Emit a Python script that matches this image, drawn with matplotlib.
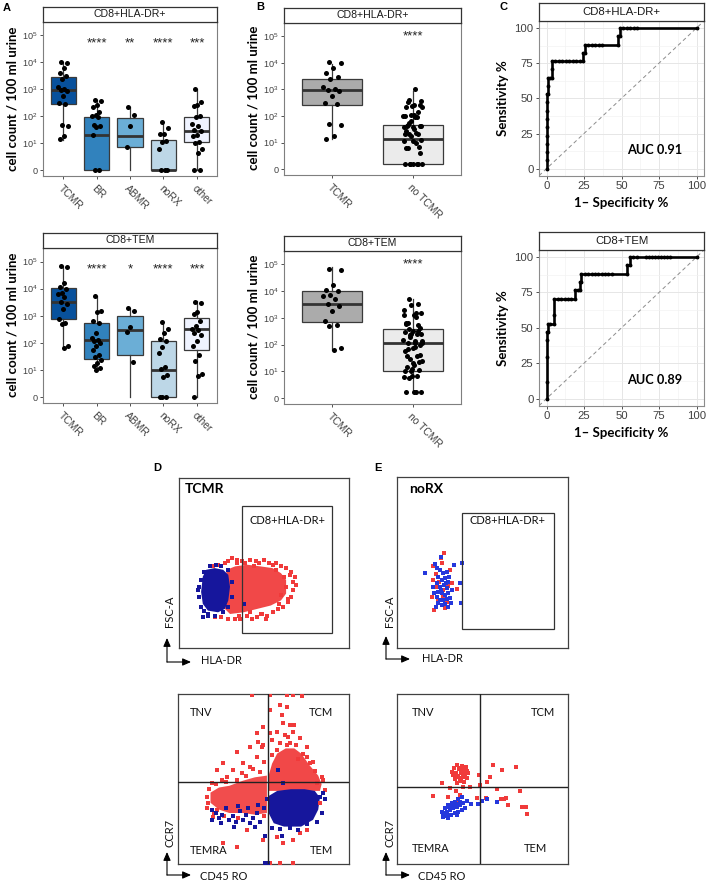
import matplotlib.pyplot as plt
import numpy as np

plt.rcParams['font.family'] = ['Liberation Sans', 'DejaVu Sans']
plt.rcParams['mathtext.fontset'] = 'custom'
plt.rcParams['mathtext.rm'] = 'Liberation Sans'
plt.rcParams['mathtext.it'] = 'Liberation Sans:italic'
plt.rcParams['mathtext.bf'] = 'Liberation Sans:bold'

W, H = 708, 885
BOLD = ['Lato', 'DejaVu Sans']

# ---------------- data (log10 cell count / 100 ml urine, 0 = none) ----------------
groups_a = ['TCMR', 'BR', 'ABMR', 'noRX', 'other']
groups_b = ['TCMR', 'no TCMR']

hla_tcmr = [4.03, 3.98, 3.79, 3.6, 3.48, 3.4, 3.1, 3.03, 2.98, 2.95, 2.75, 2.5, 2.45, 1.69, 1.65, 1.25, 1.15]
hla_br = [2.62, 2.55, 2.4, 2.35, 2.15, 2.05, 2.0, 1.98, 1.68, 1.62, 1.6, 1.32, 0, 0]
hla_abmr = [2.35, 2.05, 1.62, 0.85]
hla_norx = [1.8, 1.58, 1.35, 1.33, 1.08, 1.05, 0.8, 0, 0, 0]
hla_other = [3.0, 2.52, 2.42, 2.38, 2.0, 1.98, 1.72, 1.62, 1.5, 1.45, 1.32, 1.25, 1.06, 1.0, 0.79, 0.62, 0, 0]

tem_tcmr = [4.82, 4.8, 4.22, 4.06, 4.0, 3.85, 3.81, 3.69, 3.52, 3.44, 3.25, 2.88, 2.75, 2.69, 1.88, 1.81]
tem_br = [3.72, 3.19, 3.12, 2.81, 2.75, 2.38, 2.19, 2.12, 2.06, 2.0, 1.88, 1.75, 1.56, 1.47, 1.38, 1.25, 1.15, 1.06, 1.0]
tem_abmr = [3.28, 3.19, 2.6, 2.4, 1.31]
tem_norx = [2.78, 2.5, 2.35, 2.15, 2.06, 1.85, 1.62, 1.1, 1.02, 0.81, 0.75, 0, 0, 0]
tem_other = [3.52, 3.47, 3.12, 3.05, 2.81, 2.62, 2.52, 2.48, 2.38, 2.3, 2.06, 1.9, 1.56, 1.34, 0.84, 0.78, 0]

# box statistics (TCMR, BR, ABMR, noRX, other)
hla_q1 = [2.45, 0.0, 0.86, 0.0, 1.04]
hla_med = [2.97, 1.31, 1.25, 0.0, 1.47]
hla_q3 = [3.45, 1.98, 1.95, 1.1, 1.98]
hla_lo = [1.12, 0.0, 0.0, 0.0, 0.0]
hla_hi = [4.0, 2.6, 2.35, 1.8, 3.0]

tem_q1 = [2.88, 1.41, 1.56, 0.0, 1.72]
tem_med = [3.52, 2.09, 2.48, 1.0, 2.52]
tem_q3 = [4.02, 2.75, 3.0, 2.05, 2.91]
tem_lo = [1.81, 1.0, 0.0, 0.0, 0.0]
tem_hi = [4.82, 3.72, 3.28, 2.78, 3.56]

# panel B (TCMR, no TCMR); zero counts are drawn at 0.21 in B
b_zero = 0.21
b_hla_q1 = [2.41, 0.21]
b_hla_med = [2.96, 1.14]
b_hla_q3 = [3.41, 1.66]
b_hla_lo = [1.15, 0.21]
b_hla_hi = [3.96, 2.94]

b_tem_q1 = [2.85, 1.03]
b_tem_med = [3.5, 2.05]
b_tem_q3 = [4.0, 2.59]
b_tem_lo = [1.8, 0.21]
b_tem_hi = [4.9, 3.71]

stars_hla = ['', '****', '**', '****', '***']
stars_tem = ['', '****', '*', '****', '***']
stars_b = ['', '****']

# ROC curves (1 - specificity %, sensitivity %)
roc_hla_fpr = [0, 0, 0, 0, 0, 0, 0, 0, 0, 0, 1.2, 1.2, 1.2, 2.3, 3.5, 3.5, 3.5, 5.8, 8.1, 10.5,
               12.8, 15.1, 17.4, 19.8, 22.1, 24.4, 24.4, 25.6, 25.6, 27.9, 30.2, 32.6, 34.9, 37.2,
               47.7, 47.7, 48.8, 48.8, 51.2, 53.5, 55.8, 58.1, 60.5, 100]
roc_hla_tpr = [0, 5.9, 11.8, 17.6, 23.5, 29.4, 35.3, 41.2, 47.1, 52.9, 52.9, 58.8, 64.7, 64.7, 64.7,
               70.6, 76.5, 76.5, 76.5, 76.5, 76.5, 76.5, 76.5, 76.5, 76.5, 76.5, 82.4, 82.4, 88.2,
               88.2, 88.2, 88.2, 88.2, 88.2, 88.2, 94.1, 94.1, 100, 100, 100, 100, 100, 100, 100]
roc_tem_fpr = [0, 0, 0, 0, 0, 0.9, 0.9, 2.5, 5.3, 5.3, 5.3, 7.5, 9.8, 12.0, 14.2, 16.5, 18.8, 18.8,
               21.0, 22.4, 22.4, 23.2, 23.2, 25.5, 27.8, 30.0, 32.3, 34.5, 36.8, 39.0, 41.3, 43.5,
               53.5, 53.5, 55.5, 55.5, 57.7, 60.0, 66.0, 68.0, 70.0, 72.0, 74.0, 76.0, 78.0, 80.0,
               82.3, 100]
roc_tem_tpr = [0, 11.8, 29.4, 41.2, 47.1, 47.1, 52.9, 52.9, 52.9, 58.8, 70.6, 70.6, 70.6, 70.6, 70.6,
               70.6, 70.6, 76.5, 76.5, 76.5, 82.4, 82.4, 88.2, 88.2, 88.2, 88.2, 88.2, 88.2, 88.2,
               88.2, 88.2, 88.2, 88.2, 94.1, 94.1, 100, 100, 100, 100, 100, 100, 100, 100, 100, 100,
               100, 100, 100]
auc_hla = 0.91
auc_tem = 0.89

# flow cytometry events (arbitrary channel units 0-100); dense cores as outlines
d1_red_core = [(28, 46), (33, 48), (40, 49), (48, 48), (55, 47), (60, 44), (63, 40), (63, 32), (60, 28),
               (54, 25), (46, 23), (38, 21), (30, 20), (27, 23), (27, 35)]
d1_blue_core = [(14, 42), (16, 46), (21, 47), (26, 46), (29, 43), (30, 36), (29, 28), (27, 23), (23, 21),
                (17, 22), (14, 26), (13, 33)]
d1_red_pts = [(29, 51), (34, 52), (37, 51), (42, 52), (45, 51), (50, 52), (53, 50), (57, 50), (60, 48),
              (63, 47), (66, 45), (68, 42), (67, 39), (69, 37), (67, 34), (66, 30), (64, 27), (61, 24),
              (58, 23), (55, 21), (52, 19), (49, 20), (46, 18), (43, 17), (40, 19), (36, 17), (33, 17),
              (29, 17), (25, 18), (21, 18), (34, 50), (44, 48), (57, 46), (62, 42), (63, 36), (60, 31),
              (48, 20), (23, 49), (27, 50), (20, 48), (51, 17), (31, 53), (65, 43), (64, 29), (59, 26),
              (39, 50), (47, 50), (55, 49), (42, 21), (35, 19)]
d1_blue_pts = [(12, 30), (12, 36), (13, 40), (13, 24), (15, 45), (18, 48), (22, 49), (25, 48), (29, 46),
               (31, 39), (31, 30), (29, 24), (26, 21), (21, 19), (17, 19), (15, 22), (14, 18), (38, 26),
               (17, 20), (11, 34)]

d2_red_core_left = [(19, 42), (24, 45), (30, 46), (38, 49), (45, 51), (52, 52), (52, 30), (45, 29),
                    (38, 30), (30, 30), (24, 32), (19, 36)]
d2_red_core_right = [(53, 52), (55, 59), (58, 65), (63, 68), (68, 68), (72, 65), (77, 58), (82, 52),
                     (84, 47), (83, 43), (53, 43)]
d2_blue_core = [(53, 40), (58, 43), (66, 44), (74, 44), (80, 43), (83, 39), (82, 32), (79, 26), (72, 22),
                (62, 22), (56, 24), (53, 30)]
d2_red_pts = [(43.1, 99.4), (53.8, 99.6), (63.5, 99.6), (67.4, 99.4), (72.3, 99), (59.6, 93.5),
              (63.5, 92.5), (60.6, 87.6), (53.8, 90.6), (65.5, 81.8), (61.6, 82.7), (67.8, 81.8),
              (57.7, 77.8), (62.6, 75.9), (64.5, 74.9), (67.4, 77.8), (49.9, 80.8), (53.8, 76.9),
              (48.9, 69), (54.8, 73), (59.6, 71), (65.5, 71), (71.3, 74), (75.2, 69), (73.3, 65),
              (46, 76.9), (47, 72), (34.3, 66.1), (42.1, 69), (49.9, 70), (26.5, 59.2), (32.4, 55.3),
              (38.2, 59.2), (22.6, 55.3), (19.7, 47.5), (16.8, 39.6), (42.1, 57.3), (46, 63.1),
              (28.5, 51.4), (25.6, 49.4), (34.3, 49.4), (37.2, 53.3), (85, 49.4), (85.9, 43.6),
              (83.1, 35.7), (81.1, 47.5), (77.2, 59.2), (75.2, 63.1), (26.5, 12.2), (34.3, 10.2),
              (49.9, 14.1), (57.7, 16.1), (67.4, 14.1), (71.3, 18), (75.2, 20), (61.6, 12.2), (40.2, 20),
              (53.8, 0.4), (59.6, 0.4), (67.4, 0.4), (17.7, 35.7), (20.7, 27.8), (22.6, 31.7),
              (44, 56), (50, 60), (55, 64), (70, 62), (80, 55), (18, 44), (22, 47), (28, 48), (40, 52),
              (48, 54), (17, 33), (21, 30), (27, 28), (35, 27), (44, 27), (50, 28), (84, 51), (79, 60),
              (58, 67), (64, 70), (69, 70)]
d2_blue_pts = [(20, 32), (22, 30), (24, 27), (26, 29), (28, 33), (30, 26), (32, 28), (34, 25), (36, 31),
               (38, 26), (40, 29), (42, 24), (44, 27), (46, 30), (48, 25), (50, 33), (47, 35), (35, 34),
               (25, 24), (41, 33), (20, 26), (33, 22), (45, 22), (50.6, 0.4), (52.5, 0.4), (58.7, 55.3),
               (61.6, 47.5), (83.1, 39.6), (75.2, 23.3), (65.5, 21.4), (59.6, 20.4), (60.6, 16.5),
               (50.8, 16.5), (85, 42), (86, 38), (84, 30), (81, 25), (70, 20), (55, 21), (52, 38)]

e1_red_pts = [(27.5, 55.7), (25.5, 52.4), (20.9, 47.9), (22.8, 43.3), (20.5, 29.6), (21.6, 22.2),
              (24.8, 38.8), (27.1, 33.9), (24.2, 28.1), (30.0, 36.2), (32.0, 37.8), (21.2, 39.8),
              (28.1, 23.2), (31.0, 45.6), (23.6, 35.5), (29.0, 27.1), (26.1, 49.5), (34.9, 34.3),
              (26.7, 30.0)]
e1_blue_pts = [(16.4, 44.0), (22.2, 49.1), (25.7, 53.0), (23.2, 46.6), (25.2, 45.6), (27.1, 43.7),
               (29.0, 44.6), (24.2, 41.7), (26.1, 39.8), (28.1, 40.7), (30.0, 38.8), (23.2, 37.8),
               (25.2, 35.9), (27.5, 36.8), (29.0, 35.0), (24.2, 33.0), (26.1, 32.0), (28.1, 31.0),
               (30.0, 32.0), (23.2, 30.0), (25.2, 28.1), (27.1, 28.1), (29.0, 28.5), (31.0, 29.0),
               (24.2, 26.1), (26.1, 25.2), (28.1, 25.7), (30.0, 24.2), (31.4, 26.1), (22.8, 24.2),
               (25.5, 33.9), (28.7, 37.8), (21.2, 35.9), (33.3, 48.3), (38.2, 49.5), (36.8, 37.8),
               (37.2, 26.1), (21.6, 32.0), (32.0, 33.9), (30.6, 41.7)]

e2_red_pts = [(34.9, 58.2), (37.8, 57.6), (40.4, 57.3), (33.3, 56.3), (36.5, 55.7), (38.8, 55.3),
              (41.1, 54.9), (34.5, 53.7), (37.2, 53.3), (39.8, 52.9), (32.6, 52.4), (35.9, 51.4),
              (38.4, 51.0), (40.8, 50.4), (33.9, 49.8), (36.8, 49.0), (39.2, 48.4), (35.3, 47.5),
              (32.0, 54.3), (41.7, 53.3), (26.1, 47.5), (31.0, 44.5), (21.2, 40.0), (30.0, 39.6),
              (34.5, 43.1), (38.8, 45.5), (36.8, 40.6), (34.9, 35.7), (48.1, 52.2), (52.8, 48.4),
              (54.4, 51.4), (56.3, 58.2), (61.2, 55.3), (69.6, 56.9), (58.6, 44.3), (62.6, 38.0),
              (65.1, 34.5), (71.9, 43.1), (72.9, 33.3), (75.4, 33.3), (75.8, 29.4), (46.6, 38.6),
              (52.1, 38.6), (60.6, 38.4), (63.8, 38.6), (48.5, 46.5), (42.7, 45.1), (36, 56.5),
              (39, 54), (35, 52), (37.5, 50.5)]
e2_blue_pts = [(27.1, 29.8), (29.0, 30.8), (31.0, 31.8), (32.9, 32.7), (34.9, 33.7), (36.8, 34.7),
               (38.8, 35.7), (37.8, 39.2), (35.9, 38.0), (33.9, 36.7), (32.0, 35.7), (30.0, 34.7),
               (28.1, 32.7), (26.1, 30.8), (26.7, 27.8), (29.0, 28.2), (31.4, 28.8), (33.9, 29.8),
               (35.9, 30.8), (37.8, 31.8), (39.8, 32.7), (36.8, 36.7), (34.5, 35.3), (32.6, 33.7),
               (30.6, 33.3), (40.8, 37.3), (43.1, 35.3), (47.6, 35.3), (49.5, 37.3), (52.4, 38.0),
               (58.3, 36.3), (35.3, 28.8), (30.0, 26.9)]

# ---------------- drawing ----------------
fig = plt.figure(figsize=(W / 100, H / 100), dpi=100)


def px_axes(x0, y0, x1, y1, **kw):
    return fig.add_axes([x0 / W, 1 - y1 / H, (x1 - x0) / W, (y1 - y0) / H], **kw)


def strip(x0, y0, x1, y1, title, size):
    s = px_axes(x0, y0, x1, y1, facecolor='white')
    s.set_xticks([]); s.set_yticks([])
    for sp in s.spines.values():
        sp.set_color('#333333'); sp.set_linewidth(0.9)
    s.text(0.5, 0.5, title, ha='center', va='center', fontsize=size, color='#1A1A1A', transform=s.transAxes)


def box_panel(rect, title, data, q1, med, q3, lo, hi, fills, labels, stars, star_y, jit):
    x0, y0, x1, y1 = rect
    ax = px_axes(x0, y0, x1, y1)
    n = len(data)
    stats = [dict(med=med[i], q1=q1[i], q3=q3[i], whislo=lo[i], whishi=hi[i], fliers=[]) for i in range(n)]
    bp = ax.bxp(stats, positions=np.arange(1, n + 1), widths=0.75, patch_artist=True,
                showcaps=False, showfliers=False,
                boxprops=dict(edgecolor='#3A3A3A', linewidth=0.9),
                whiskerprops=dict(color='#3A3A3A', linewidth=0.9),
                medianprops=dict(color='#333333', linewidth=2.0, solid_capstyle='butt'))
    for patch, c in zip(bp['boxes'], fills):
        patch.set_facecolor(c)
    for i, vals in enumerate(data):
        k = np.arange(len(vals))
        dx = jit * (2 * ((k * 0.618034 + 0.31) % 1) - 1)
        ax.scatter(i + 1 + dx, vals, s=13, color='black', linewidths=0, zorder=3)
        ax.text(i + 1, star_y - 0.12, stars[i], ha='center', va='center', fontsize=9.5, color='#222222')
    ax.set_xlim(0.4, n + 0.6)
    ax.set_ylim(-0.22, 5.5)
    ax.set_yticks(range(6))
    ax.set_yticklabels(['0'] + ['$10^{%d}$' % k for k in range(1, 6)])
    ax.set_xticks(np.arange(1, n + 1))
    ax.set_xticklabels(labels, rotation=-45, ha='left', va='top', rotation_mode='anchor')
    ax.tick_params(length=2.5, width=0.6, color='#333333', labelcolor='#404040', labelsize=6.6, pad=1.5)
    ax.tick_params(axis='x', labelsize=7.4, pad=2.5)
    for sp in ax.spines.values():
        sp.set_color('#7F7F7F'); sp.set_linewidth(0.8)
    strip(x0, y0 - 15.5, x1, y0, title, 7.6)
    return ax


fills_a = ['#08519C', '#3182BD', '#6BAED6', '#BDD7E7', '#EFF3FF']
fills_b = ['#ABABAB', '#EBEBEB']

box_panel((43, 22, 217, 176), 'CD8+HLA-DR+', [hla_tcmr, hla_br, hla_abmr, hla_norx, hla_other],
          hla_q1, hla_med, hla_q3, hla_lo, hla_hi, fills_a, groups_a, stars_hla, 4.81, 0.15)
box_panel((43, 248, 217, 403), 'CD8+TEM', [tem_tcmr, tem_br, tem_abmr, tem_norx, tem_other],
          tem_q1, tem_med, tem_q3, tem_lo, tem_hi, fills_a, groups_a, stars_tem, 4.82, 0.15)

no_hla = [v if v > 0 else b_zero for v in hla_br + hla_abmr + hla_norx + hla_other]
no_tem = [v if v > 0 else b_zero for v in tem_br + tem_abmr + tem_norx + tem_other]
box_panel((284, 23, 461, 175), 'CD8+HLA-DR+', [hla_tcmr, no_hla],
          b_hla_q1, b_hla_med, b_hla_q3, b_hla_lo, b_hla_hi, fills_b, groups_b, stars_b, 5.1, 0.12)
box_panel((284, 251, 461, 404), 'CD8+TEM', [tem_tcmr, no_tem],
          b_tem_q1, b_tem_med, b_tem_q3, b_tem_lo, b_tem_hi, fills_b, groups_b, stars_b, 5.1, 0.12)


def roc_panel(rect, title, fpr, tpr, auc):
    x0, y0, x1, y1 = rect
    ax = px_axes(x0, y0, x1, y1)
    ax.set_xlim(-5, 105); ax.set_ylim(-5, 105)
    ticks = [0, 25, 50, 75, 100]
    ax.set_xticks(ticks); ax.set_yticks(ticks)
    ax.set_xticks([12.5, 37.5, 62.5, 87.5], minor=True)
    ax.set_yticks([12.5, 37.5, 62.5, 87.5], minor=True)
    ax.grid(which='major', color='#E6E6E6', lw=0.7)
    ax.grid(which='minor', color='#F2F2F2', lw=0.45)
    ax.set_axisbelow(True)
    ax.tick_params(which='minor', length=0)
    ax.tick_params(length=2.5, width=0.6, color='#333333', labelcolor='#404040', labelsize=8.2, pad=1.5)
    ax.plot([-5, 105], [-5, 105], ls=(0, (4, 3)), color='#8C8C8C', lw=0.7)
    ax.plot(fpr, tpr, color='black', lw=1.9, marker='o', ms=1.8, solid_joinstyle='miter')
    ax.text(72, 13, 'AUC %.2f' % auc, ha='center', va='center', fontsize=9.2, weight='bold', family=BOLD)
    ax.set_xlabel('1\u2013 Specificity %', fontsize=9.5, weight='bold', family=BOLD, labelpad=4)
    ax.set_ylabel('Sensitivity %', fontsize=9.5, weight='bold', family=BOLD, labelpad=4)
    for sp in ax.spines.values():
        sp.set_color('#8C8C8C'); sp.set_linewidth(0.8)
    strip(x0, y0 - 17.7, x1, y0, title, 8.2)


roc_panel((539, 21, 704, 175.7), 'CD8+HLA-DR+', roc_hla_fpr, roc_hla_tpr, auc_hla)
roc_panel((539, 250, 704, 405.7), 'CD8+TEM', roc_tem_fpr, roc_tem_tpr, auc_tem)

RED = '#F03A3A'
NAVY = '#16169C'
BLUE = '#2538DC'


def flow_axes(rect):
    ax = px_axes(*rect)
    ax.set_xlim(0, 100); ax.set_ylim(0, 100)
    ax.set_xticks([]); ax.set_yticks([])
    for sp in ax.spines.values():
        sp.set_color('#404040'); sp.set_linewidth(0.9)
    return ax


def events(ax, pts, color):
    p = np.array(pts)
    ax.scatter(p[:, 0], p[:, 1], s=5, marker='s', color=color, linewidths=0, zorder=3)


def core(ax, poly, color, alpha=1.0):
    p = np.array(poly)
    ax.fill(p[:, 0], p[:, 1], color=color, lw=0, alpha=alpha, zorder=2)


# D top
ax = flow_axes((179, 478, 349, 648))
core(ax, d1_red_core, RED, 0.93)
events(ax, d1_red_pts, RED)
core(ax, d1_blue_core, NAVY)
events(ax, d1_blue_pts, NAVY)
ax.add_patch(plt.Rectangle((37, 9), 53, 74.5, fill=False, ec='#333333', lw=0.9, zorder=4))

# D bottom
ax = flow_axes((178, 694, 349, 864))
core(ax, d2_red_core_left, RED, 0.9)
core(ax, d2_red_core_right, RED, 0.93)
events(ax, d2_red_pts, RED)
core(ax, d2_blue_core, NAVY)
events(ax, d2_blue_pts, NAVY)
ax.axvline(52.6, color='#222222', lw=1.0, zorder=4)
ax.axhline(48.2, color='#222222', lw=1.0, zorder=4)

# E top
ax = flow_axes((397, 477, 568, 648))
events(ax, e1_red_pts, RED)
events(ax, e1_blue_pts, BLUE)
ax.add_patch(plt.Rectangle((38, 11), 53.8, 68, fill=False, ec='#333333', lw=0.9, zorder=4))

# E bottom
ax = flow_axes((397, 694, 568, 864))
events(ax, e2_red_pts, RED)
events(ax, e2_blue_pts, BLUE)
ax.axvline(48.5, color='#222222', lw=1.0, zorder=4)
ax.axhline(45.3, color='#222222', lw=1.0, zorder=4)

# ---------------- labels / decorations in pixel space ----------------
deco = fig.add_axes([0, 0, 1, 1], facecolor='none')
deco.set_xlim(0, W); deco.set_ylim(H, 0); deco.axis('off')

for x, y, s in [(7, 8, 'A'), (260, 7, 'B'), (503, 7, 'C'), (157, 468, 'D'), (378, 468, 'E')]:
    deco.text(x, y, s, ha='center', va='center', fontsize=8, weight='bold')

ylab = 'cell count / 100 ml urine'
for x, y in [(13, 99), (13, 325), (254, 98), (254, 327)]:
    deco.text(x, y, ylab, rotation=90, ha='center', va='center', fontsize=9.5, weight='bold', family=BOLD)

LAB = dict(fontsize=8, family=BOLD, color='#111111')
deco.text(185, 489, 'TCMR', ha='left', va='center', fontsize=10, weight='bold', family=BOLD)
deco.text(409, 489, 'noRX', ha='left', va='center', fontsize=10, weight='bold', family=BOLD)
deco.text(287, 520, 'CD8+HLA-DR+', ha='center', va='center', **LAB)
deco.text(508, 520, 'CD8+HLA-DR+', ha='center', va='center', **LAB)
for xl, xr, yt, yb in [(190, 333, 713, 850), (412, 555, 712, 849)]:
    deco.text(xl, yt, 'TNV', ha='left', va='center', **LAB)
    deco.text(xr, yt, 'TCM', ha='right', va='center', **LAB)
    deco.text(xl, yb, 'TEMRA', ha='left', va='center', **LAB)
    deco.text(xr - (0 if xl == 190 else 8), yb, 'TEM', ha='right', va='center', **LAB)

arrow = dict(arrowstyle='-|>,head_length=0.5,head_width=0.22', lw=0.8, color='black',
             shrinkA=0, shrinkB=0)
for x, ytop, ybot in [(167, 638, 662), (167, 852, 875), (386, 636, 659), (386, 852, 875)]:
    deco.annotate('', xy=(x, ytop), xytext=(x, ybot), arrowprops=arrow)
    deco.annotate('', xy=(x + 24, ybot), xytext=(x, ybot), arrowprops=arrow)

for x, y, s in [(170, 611, 'FSC-A'), (170, 833, 'CCR7'), (390, 611, 'FSC-A'), (390, 833, 'CCR7')]:
    deco.text(x, y, s, rotation=90, ha='center', va='center', **LAB)
for x, y, s in [(201, 661, 'HLA-DR'), (200, 877, 'CD45 RO'), (422, 659, 'HLA-DR'), (418, 877, 'CD45 RO')]:
    deco.text(x, y, s, ha='left', va='center', **LAB)

fig.savefig('out.png', dpi=100)
